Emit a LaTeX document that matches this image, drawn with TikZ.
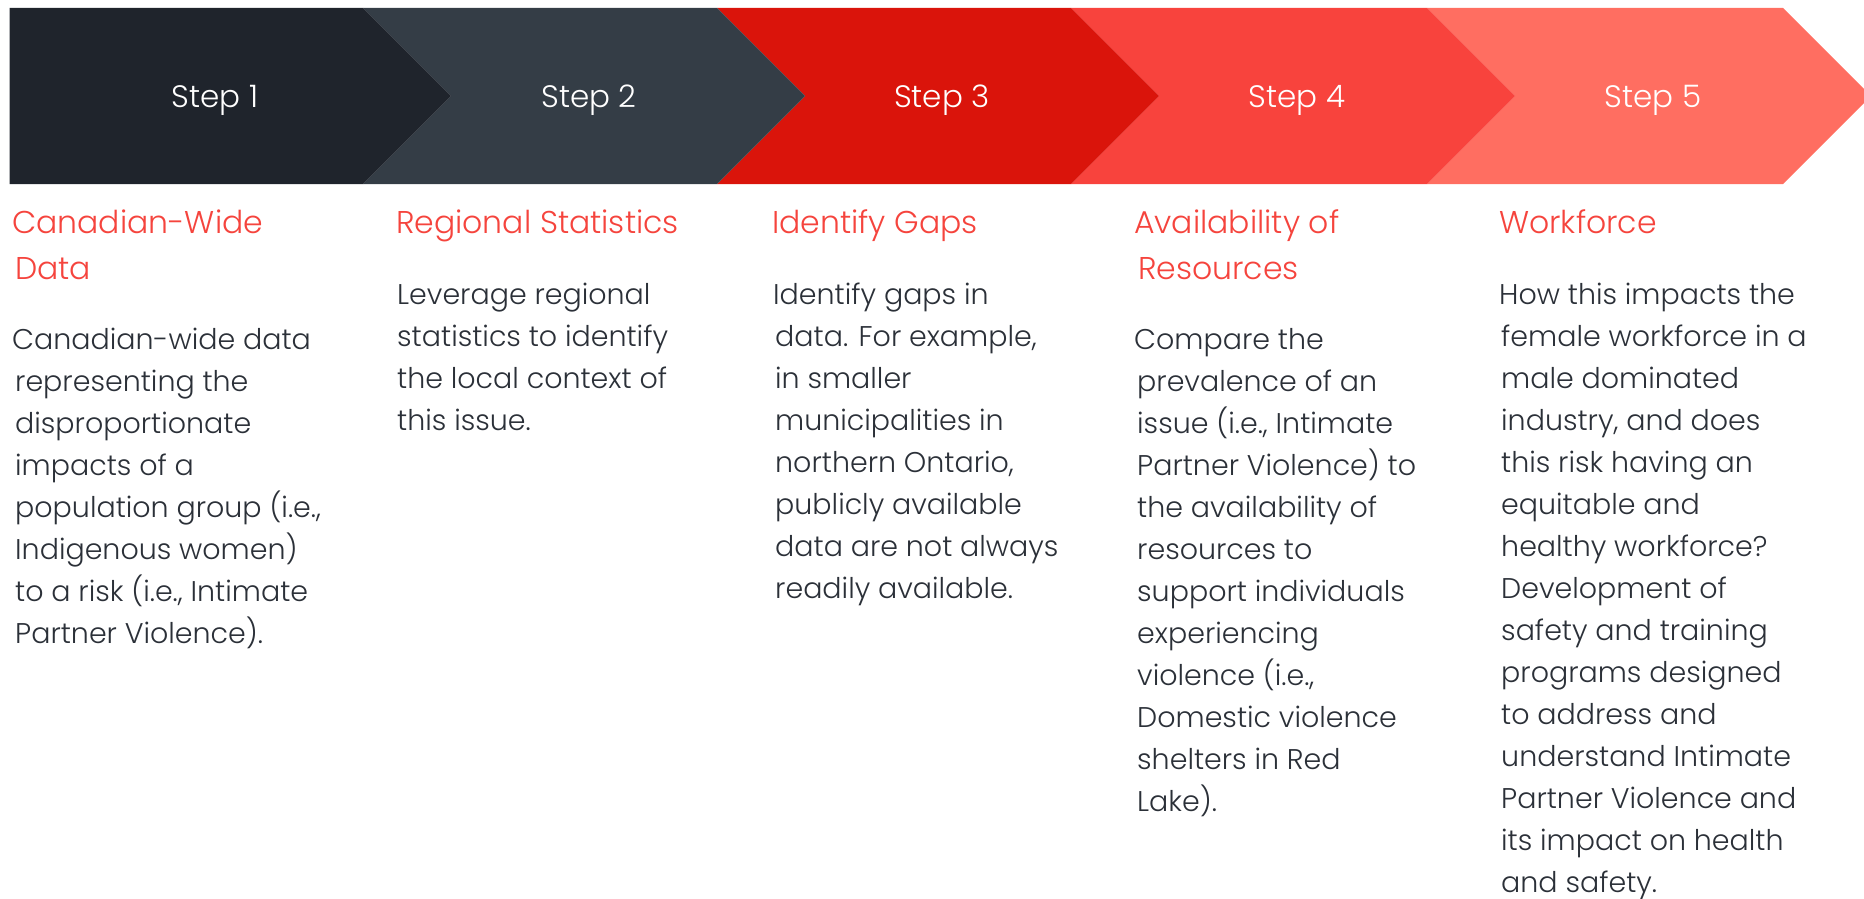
\documentclass[tikz,border=0pt]{standalone}
\usepackage{fontspec}
\setmainfont{Poppins}[UprightFont=* Light]
\definecolor{stepA}{HTML}{1F242C}
\definecolor{stepB}{HTML}{343D46}
\definecolor{stepC}{HTML}{DA140B}
\definecolor{stepD}{HTML}{F8433D}
\definecolor{stepE}{HTML}{FF6E61}
\definecolor{headred}{HTML}{F5443D}
\definecolor{bodytext}{HTML}{2B3038}
% text blocks are placed by their top edge; a strut on the first line
% fixes that edge at 0.7 baselineskip above the first baseline
\tikzset{
  steplabel/.style={anchor=base, inner sep=0pt, text=white, font=\fontsize{31}{36}\selectfont},
  heading/.style={anchor=north west, inner sep=0pt, align=left, text=headred, font=\fontsize{31.5}{46}\selectfont},
  bodytxt/.style={anchor=north west, inner sep=0pt, align=left, text=bodytext, font=\fontsize{28.5}{42}\selectfont},
}
% first baseline minus strut height
\newcommand{\hdtop}[1]{#1-32.2}
\newcommand{\bdtop}[1]{#1-29.4}
\begin{document}
\begin{tikzpicture}[x=1pt,y=-1pt]
\useasboundingbox (0,0) rectangle (1864,899);
% chevron band: top 8, bottom 184, point at 96, depth 88
\def\bt{8}\def\bb{184}\def\bm{96}
\fill[stepE] (1783-356,\bt) -- (1783,\bt) -- (1871,\bm) -- (1783,\bb) -- (1783-356,\bb) -- (1783-356+88,\bm) -- cycle;
\fill[stepD] (1427-356,\bt) -- (1427,\bt) -- (1515,\bm) -- (1427,\bb) -- (1427-356,\bb) -- (1427-356+88,\bm) -- cycle;
\fill[stepC] (1071-354,\bt) -- (1071,\bt) -- (1159,\bm) -- (1071,\bb) -- (1071-354,\bb) -- (1071-354+88,\bm) -- cycle;
\fill[stepB] (717-354,\bt) -- (717,\bt) -- (805,\bm) -- (717,\bb) -- (717-354,\bb) -- (717-354+88,\bm) -- cycle;
\fill[stepA] (9.5,\bt) -- (363,\bt) -- (451,\bm) -- (363,\bb) -- (9.5,\bb) -- cycle;

\node[steplabel] (s1) at (215,107) {Step 1};
\node[steplabel] (s2) at (589,107) {Step 2};
\node[steplabel] (s3) at (942,107) {Step 3};
\node[steplabel] (s4) at (1297,107) {Step 4};
\node[steplabel] (s5) at (1653,107) {Step 5};

% column 1
\node[heading] (h1) at (12,{\hdtop{233}}) {\strut Canadian-Wide\\\hspace*{3pt}Data};
\node[bodytxt] (b1) at (12,{\bdtop{349}}) {\strut Canadian-wide data\\
\hspace*{3pt}representing the\\
\hspace*{3pt}disproportionate\\
\hspace*{3pt}impacts of a\\
\hspace*{3pt}population group (i.e.,\\
\hspace*{3pt}Indigenous women)\\
\hspace*{3pt}to a risk (i.e., Intimate\\
\hspace*{3pt}Partner Violence).};

% column 2
\node[heading] (h2) at (396,{\hdtop{233}}) {\strut Regional Statistics};
\node[bodytxt] (b2) at (397,{\bdtop{304}}) {\strut Leverage regional\\
statistics to identify\\
the local context of\\
this issue.};

% column 3
\node[heading] (h3) at (772,{\hdtop{233}}) {\strut Identify Gaps};
\node[bodytxt] (b3) at (773,{\bdtop{304}}) {\strut Identify gaps in\\
\hspace*{2pt}data. For example,\\
\hspace*{2pt}in smaller\\
\hspace*{2pt}municipalities in\\
\hspace*{2pt}northern Ontario,\\
\hspace*{2pt}publicly available\\
\hspace*{2pt}data are not always\\
\hspace*{2pt}readily available.};

% column 4
\node[heading] (h4) at (1134,{\hdtop{233}}) {\strut Availability of\\\hspace*{4pt}Resources};
\node[bodytxt] (b4) at (1134,{\bdtop{349}}) {\strut Compare the\\
\hspace*{3pt}prevalence of an\\
\hspace*{3pt}issue (i.e., Intimate\\
\hspace*{3pt}Partner Violence) to\\
\hspace*{3pt}the availability of\\
\hspace*{3pt}resources to\\
\hspace*{3pt}support individuals\\
\hspace*{3pt}experiencing\\
\hspace*{3pt}violence (i.e.,\\
\hspace*{3pt}Domestic violence\\
\hspace*{3pt}shelters in Red\\
\hspace*{3pt}Lake).};

% column 5
\node[heading] (h5) at (1499,{\hdtop{233}}) {\strut Workforce};
\node[bodytxt] (b5) at (1499,{\bdtop{304}}) {\strut How this impacts the\\
\hspace*{2pt}female workforce in a\\
\hspace*{2pt}male dominated\\
\hspace*{2pt}industry, and does\\
\hspace*{2pt}this risk having an\\
\hspace*{2pt}equitable and\\
\hspace*{2pt}healthy workforce?\\
\hspace*{2pt}Development of\\
\hspace*{2pt}safety and training\\
\hspace*{2pt}programs designed\\
\hspace*{2pt}to address and\\
\hspace*{2pt}understand Intimate\\
\hspace*{2pt}Partner Violence and\\
\hspace*{2pt}its impact on health\\
\hspace*{2pt}and safety.};
\end{tikzpicture}
\end{document}
